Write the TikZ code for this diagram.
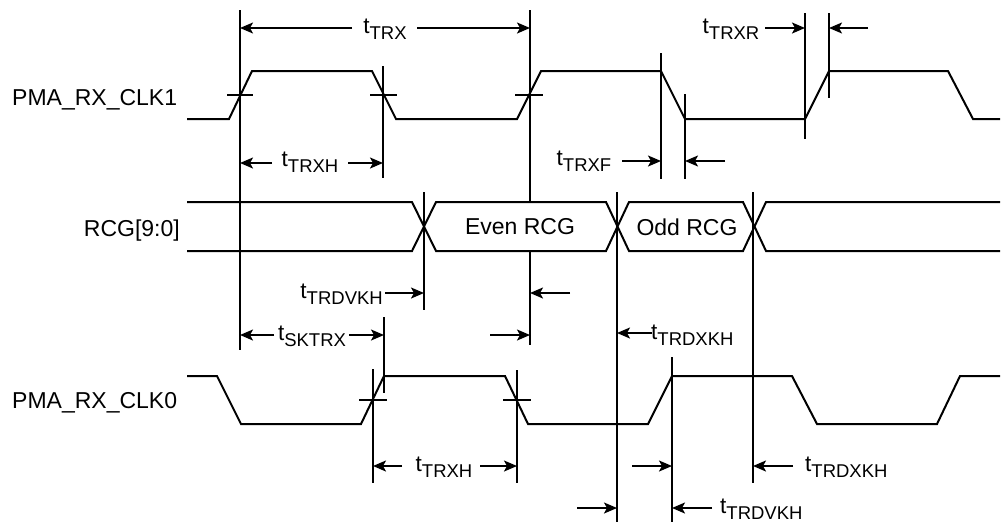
\documentclass[tikz,border=0pt]{standalone}
\usepackage{fontspec}
\setmainfont{Liberation Sans}
\usetikzlibrary{arrows.meta}
\newcommand{\tsub}[1]{{\fontsize{22.5}{24}\selectfont t}\raisebox{-6pt}{\fontsize{18.5}{20}\selectfont #1}}
\begin{document}
\begin{tikzpicture}[x=1pt,y=-1pt,
  wave/.style={line width=2pt, line join=miter},
  vline/.style={line width=2pt},
  tick/.style={line width=1.8pt},
  dimarrow/.style={line width=1.8pt, -{Stealth[length=13pt,width=11pt,inset=3pt]}},
  lbl/.style={inner sep=0pt, font=\fontsize{23}{26}\selectfont},
  tlbl/.style={inner sep=0pt}]
\useasboundingbox (0,0) rectangle (1001,523);
% signal labels
\node[lbl, anchor=base west] (clk1) at (12,105) {PMA\_RX\_CLK1};
\node[lbl, anchor=base east] (rcg) at (180,236) {RCG[9:0]};
\node[lbl, anchor=base west] (clk0) at (12,408) {PMA\_RX\_CLK0};
% PMA_RX_CLK1
\draw[wave] (187,119) -- (229,119) -- (252,71) -- (372,71) -- (396,119) -- (517,119) -- (541,71) -- (661,71) -- (685,119) -- (805,119) -- (829,71) -- (948,71) -- (973,119) -- (1000,119);
% RCG bus
\draw[wave] (187,202) -- (412,202) -- (436,251) -- (606,251) -- (629,202) -- (743,202) -- (766,251) -- (1000,251);
\draw[wave] (187,251) -- (412,251) -- (436,202) -- (606,202) -- (629,251) -- (743,251) -- (766,202) -- (1000,202);
\node[lbl] (even) at (520,227) {Even RCG};
\node[lbl] (odd) at (687,227) {Odd RCG};
% PMA_RX_CLK0
\draw[wave] (187,376) -- (217,376) -- (241,424) -- (361,424) -- (384,376) -- (505,376) -- (528,424) -- (648,424) -- (672,376) -- (792,376) -- (817,424) -- (937,424) -- (960,376) -- (1000,376);
% crossing ticks
\draw[tick] (227,95) -- (253,95);
\draw[tick] (370,95) -- (397,95);
\draw[tick] (515,95) -- (543,95);
\draw[tick] (359,400) -- (387,400);
\draw[tick] (503,400) -- (531,400);
% vertical reference lines
\draw[vline] (240,10) -- (240,350);
\draw[vline] (383,66) -- (383,178);
\draw[vline] (384,317) -- (384,393);
\draw[vline] (373,369) -- (373,483);
\draw[vline] (530,10) -- (530,202);
\draw[vline] (530,251) -- (530,345);
\draw[vline] (424,192) -- (424,310);
\draw[vline] (617,192) -- (617,522);
\draw[vline] (753,192) -- (753,483);
\draw[vline] (661,53) -- (661,179);
\draw[vline] (685,94) -- (685,179);
\draw[vline] (805,13) -- (805,139);
\draw[vline] (829,13) -- (829,98);
\draw[vline] (517,370) -- (517,483);
\draw[vline] (672,357) -- (672,522);
% timing labels and arrows
\node[tlbl] (tTRX) at (385,29) {\tsub{TRX}};
\draw[dimarrow] (352,28) -- (240,28);
\draw[dimarrow] (417,28) -- (530,28);
\node[tlbl] (tTRXHa) at (310,162) {\tsub{TRXH}};
\draw[dimarrow] (272,163) -- (240,163);
\draw[dimarrow] (348,163) -- (383,163);
\node[tlbl] (tTRXR) at (731,29) {\tsub{TRXR}};
\draw[dimarrow] (765,28) -- (805,28);
\draw[dimarrow] (868,28) -- (829,28);
\node[tlbl] (tTRXF) at (584,161) {\tsub{TRXF}};
\draw[dimarrow] (622,161) -- (661,161);
\draw[dimarrow] (725,161) -- (685,161);
\node[tlbl, anchor=east] (tTRDVKHa) at (383,294) {\tsub{TRDVKH}};
\draw[dimarrow] (385,293) -- (424,293);
\draw[dimarrow] (570,293) -- (530,293);
\node[tlbl] (tSKTRX) at (312,336) {\tsub{SKTRX}};
\draw[dimarrow] (274,335) -- (240,335);
\draw[dimarrow] (349,335) -- (384,335);
\draw[dimarrow] (490,335) -- (530,335);
\node[tlbl, anchor=west] (tTRDXKHa) at (651,335) {\tsub{TRDXKH}};
\draw[dimarrow] (652,333) -- (617,333);
\node[tlbl] (tTRXHb) at (444,467) {\tsub{TRXH}};
\draw[dimarrow] (402,466) -- (373,466);
\draw[dimarrow] (480,466) -- (517,466);
\draw[dimarrow] (632,466) -- (672,466);
\draw[dimarrow] (793,466) -- (753,466);
\node[tlbl, anchor=west] (tTRDXKHb) at (805,467) {\tsub{TRDXKH}};
\draw[dimarrow] (577,508) -- (617,508);
\draw[dimarrow] (712,508) -- (672,508);
\node[tlbl, anchor=west] (tTRDVKHb) at (720,509) {\tsub{TRDVKH}};
\end{tikzpicture}
\end{document}
